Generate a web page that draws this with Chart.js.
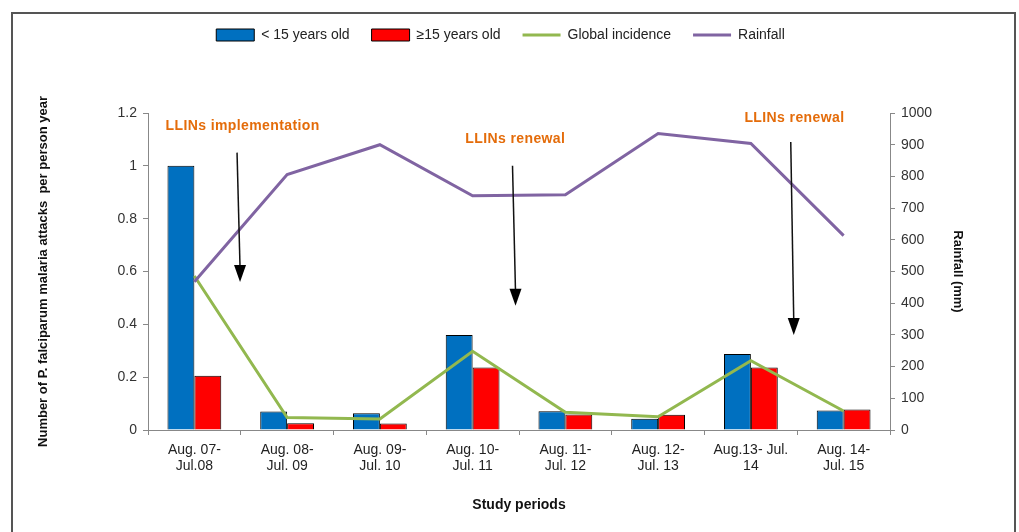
<!DOCTYPE html>
<html>
<head>
<meta charset="utf-8">
<script src="https://cdn.jsdelivr.net/npm/chart.js@4"></script>
<style>
	html, body { margin: 0; padding: 0; background: #fff; }
	#wrap { width: 1019px; height: 532px; position: relative; }
</style>
</head>
<body>
<div id="wrap"><canvas id="chart"></canvas></div>
<script>
const periods = [
	['Aug. 07-', 'Jul.08'],
	['Aug. 08-', 'Jul. 09'],
	['Aug. 09-', 'Jul. 10'],
	['Aug. 10-', 'Jul. 11'],
	['Aug. 11-', 'Jul. 12'],
	['Aug. 12-', 'Jul. 13'],
	['Aug.13- Jul.', '14'],
	['Aug. 14-', 'Jul. 15'],
];
const under15 = [1.0, 0.07, 0.063, 0.36, 0.071, 0.043, 0.288, 0.074];
const over15 = [0.205, 0.026, 0.025, 0.237, 0.059, 0.058, 0.237, 0.078];
const globalIncidence = [0.583, 0.047, 0.042, 0.298, 0.067, 0.05, 0.262, 0.072];
const rainfall = [468, 806, 900, 739, 742, 935, 904, 613];

// annotations: text and arrow anchored in data coordinates (category index, incidence)
const notes = [
	{text: 'LLINs implementation', x: 0.52, y: 1.15, arrowX: 0.46, from: 1.05, to: 0.56},
	{text: 'LLINs renewal', x: 3.46, y: 1.10, arrowX: 3.43, from: 1.0, to: 0.47},
	{text: 'LLINs renewal', x: 6.47, y: 1.18, arrowX: 6.43, from: 1.09, to: 0.36},
];

const FONT = "'Liberation Sans', Arial, sans-serif";
Chart.defaults.font.family = FONT;
Chart.defaults.color = '#333';

const frame = {
	id: 'frame',
	beforeInit(chart) {
		const fit = chart.legend.fit;
		chart.legend.fit = function() {
			fit.call(this);
			this.height = 107;
		};
	},
	beforeDraw(chart) {
		const c = chart.ctx;
		c.save();
		c.fillStyle = '#fff';
		c.fillRect(0, 0, chart.width, chart.height);
		c.strokeStyle = '#555';
		c.lineWidth = 2;
		c.strokeRect(12, 13, 1003, 540);
		c.restore();
	},
	afterDatasetsDraw(chart) {
		const c = chart.ctx;
		const xs = chart.scales.x, ys = chart.scales.y;
		c.save();
		notes.forEach(n => {
			c.font = 'bold 14px ' + FONT;
			c.letterSpacing = '0.4px';
			c.fillStyle = '#E46C0A';
			c.textAlign = 'center';
			c.textBaseline = 'middle';
			c.fillText(n.text, xs.getPixelForValue(n.x), ys.getPixelForValue(n.y));

			const x0 = xs.getPixelForValue(n.arrowX);
			const y0 = ys.getPixelForValue(n.from);
			const y1 = ys.getPixelForValue(n.to);
			const x1 = x0 + 3;
			c.strokeStyle = '#111';
			c.lineWidth = 1.5;
			c.beginPath();
			c.moveTo(x0, y0);
			c.lineTo(x1, y1 - 14);
			c.stroke();
			c.fillStyle = '#000';
			c.beginPath();
			c.moveTo(x1 - 6, y1 - 17);
			c.lineTo(x1 + 6, y1 - 17);
			c.lineTo(x1, y1);
			c.closePath();
			c.fill();
		});
		c.restore();
	}
};

new Chart(document.getElementById('chart').getContext('2d'), {
	type: 'bar',
	data: {
		labels: periods,
		datasets: [
			{
				label: '< 15 years old',
				data: under15,
				backgroundColor: '#0070C0',
				borderColor: '#000',
				borderWidth: 1,
				pointStyle: 'rect',
				categoryPercentage: 0.58,
				barPercentage: 1,
				yAxisID: 'y',
				order: 2
			},
			{
				label: '\u226515 years old',
				data: over15,
				backgroundColor: '#FF0000',
				borderColor: '#000',
				borderWidth: 1,
				pointStyle: 'rect',
				categoryPercentage: 0.58,
				barPercentage: 1,
				yAxisID: 'y',
				order: 2
			},
			{
				type: 'line',
				label: 'Global incidence',
				data: globalIncidence,
				borderColor: '#92B84F',
				backgroundColor: '#92B84F',
				borderWidth: 3,
				pointRadius: 0,
				pointStyle: 'line',
				tension: 0,
				yAxisID: 'y',
				order: 1
			},
			{
				type: 'line',
				label: 'Rainfall',
				data: rainfall,
				borderColor: '#8064A2',
				backgroundColor: '#8064A2',
				borderWidth: 3,
				pointRadius: 0,
				pointStyle: 'line',
				tension: 0,
				yAxisID: 'y1',
				order: 0
			}
		]
	},
	options: {
		responsive: true,
		maintainAspectRatio: false,
		animation: false,
		layout: {padding: {left: 36, right: 54, top: 6, bottom: 18}},
		plugins: {
			tooltip: {enabled: false},
			legend: {
				position: 'top',
				labels: {
					usePointStyle: true,
					pointStyleWidth: 38,
					boxHeight: 12,
					padding: 22,
					color: '#222',
					font: {size: 14},
					sort: (a, b) => a.datasetIndex - b.datasetIndex
				}
			}
		},
		scales: {
			x: {
				grid: {drawOnChartArea: false, tickLength: 5, color: '#888', offset: true},
				border: {color: '#888'},
				ticks: {maxRotation: 0, autoSkip: false, padding: 7, color: '#222', font: {size: 14, lineHeight: 1.15}},
				title: {display: true, text: 'Study periods', color: '#111', font: {size: 14, weight: 'bold'}, padding: {top: 0, bottom: 0}},
				afterFit(s) { s.height = 84; }
			},
			y: {
				position: 'left',
				min: 0,
				max: 1.2,
				grid: {drawOnChartArea: false, tickLength: 5, color: '#888'},
				border: {color: '#888'},
				ticks: {stepSize: 0.2, padding: 6, color: '#333', font: {size: 14}, callback: v => String(+v.toFixed(1))},
				title: {display: true, text: 'Number of P. falciparum malaria attacks  per person year', color: '#111', font: {size: 13, weight: 'bold'}, padding: {top: 0, bottom: 0}},
				afterFit(s) { s.width = 112; }
			},
			y1: {
				position: 'right',
				min: 0,
				max: 1000,
				grid: {drawOnChartArea: false, tickLength: 5, color: '#888'},
				border: {color: '#888'},
				ticks: {stepSize: 100, padding: 6, color: '#333', font: {size: 14}, callback: v => String(v)},
				title: {display: true, text: 'Rainfall (mm)', color: '#111', font: {size: 13, weight: 'bold'}, padding: {top: 0, bottom: 0}},
				afterFit(s) { s.width = 75; }
			}
		}
	},
	plugins: [frame]
});
</script>
</body>
</html>
